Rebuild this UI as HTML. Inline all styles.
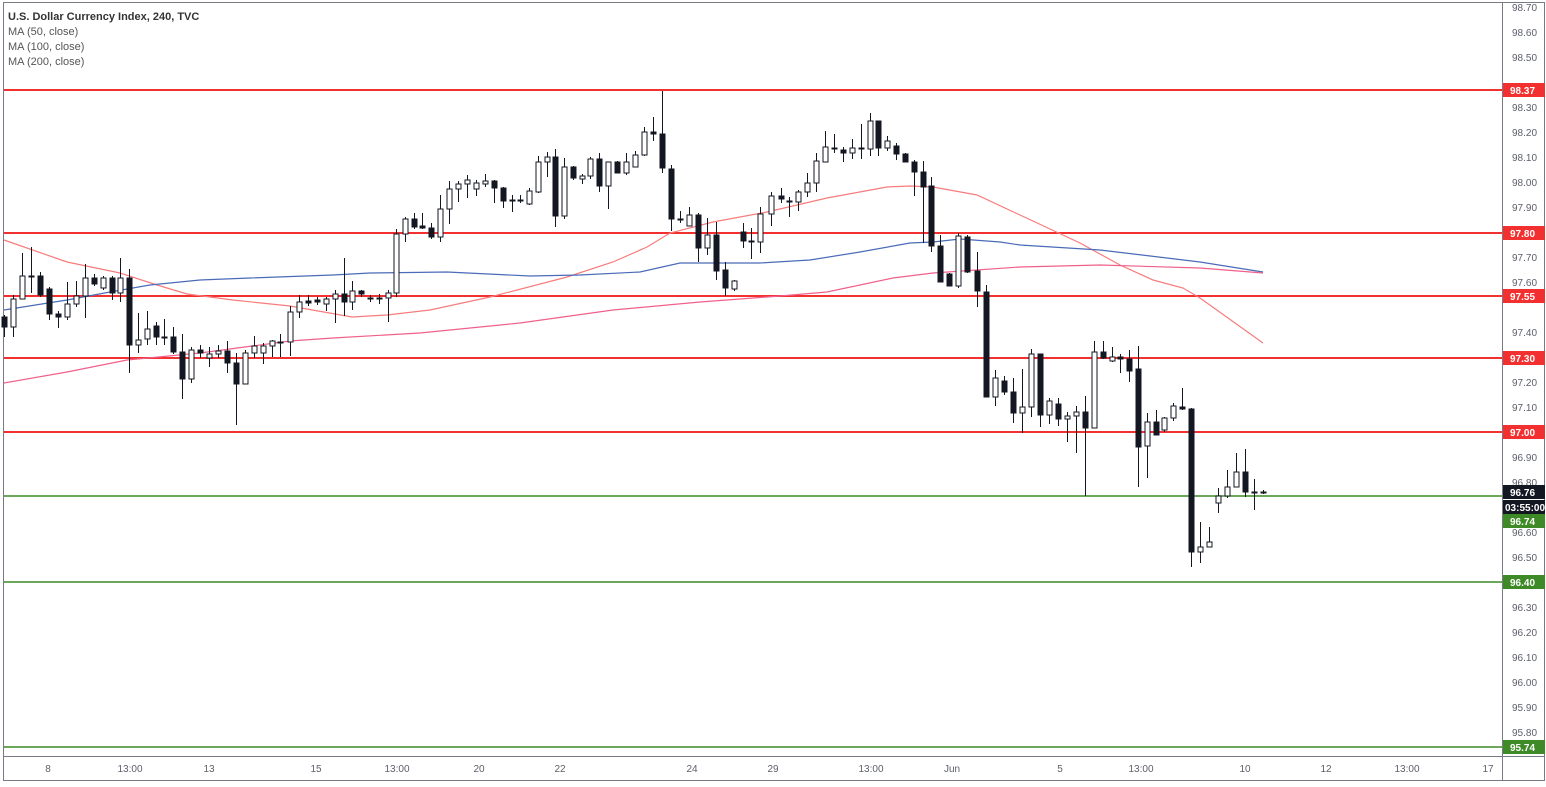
<!DOCTYPE html>
<html><head><meta charset="utf-8"><style>
body{margin:0;background:#fff;width:1546px;height:787px;overflow:hidden;font-family:"Liberation Sans",sans-serif}
svg{position:absolute;left:0;top:0}
.w{fill:#fff;stroke:#131722;stroke-width:1}
.b{fill:#131722;stroke:#131722;stroke-width:1}
.k{stroke:#131722;stroke-width:1}
.ax{font-size:10px;fill:#5d606b}
.tg{font-size:10px;fill:#fff;font-weight:bold}
</style></head><body>
<svg width="1546" height="787" viewBox="0 0 1546 787">
<rect x="3.5" y="2.5" width="1541" height="778" fill="none" stroke="#787b86"/>
<line x1="1502.5" y1="2" x2="1502.5" y2="781" stroke="#787b86"/>
<line x1="3" y1="756.5" x2="1545" y2="756.5" stroke="#787b86"/>
<g font-size="11" fill="#131722">
<text x="8" y="20" font-weight="bold" fill="#333">U.S. Dollar Currency Index, 240, TVC</text>
<text x="8" y="35" fill="#555">MA (50, close)</text>
<text x="8" y="50" fill="#555">MA (100, close)</text>
<text x="8" y="65" fill="#555">MA (200, close)</text>
</g>
<!-- horizontal levels -->
<g stroke-width="2">
<line x1="4" y1="90" x2="1502" y2="90" stroke="#f23030"/>
<line x1="4" y1="233" x2="1502" y2="233" stroke="#f23030"/>
<line x1="4" y1="296" x2="1502" y2="296" stroke="#f23030"/>
<line x1="4" y1="358" x2="1502" y2="358" stroke="#f23030"/>
<line x1="4" y1="432" x2="1502" y2="432" stroke="#f23030"/>
<line x1="4" y1="496" x2="1502" y2="496" stroke="#3d8a26" stroke-width="1.5"/>
<line x1="4" y1="582" x2="1502" y2="582" stroke="#3d8a26" stroke-width="1.5"/>
<line x1="4" y1="747" x2="1502" y2="747" stroke="#3d8a26" stroke-width="1.5"/>
</g>
<!-- MAs -->
<polyline fill="none" stroke="#f77c7c" stroke-width="1.2" points="4,240 67,262 120,273 157,285 187,294 233,300 290,306 352,317 387,315 430,310 490,297 567,277 613,262 647,247 670,233 713,222 767,212 827,198 887,187 910,186 933,187 977,195 1020,215 1080,243 1120,265 1153,280 1183,288 1200,298 1263,343"/>
<polyline fill="none" stroke="#4a6bb8" stroke-width="1.2" points="4,310 67,300 110,292 150,285 200,280 250,278 333,275 370,273 447,272 530,276 580,275 640,272 680,263 760,263 810,260 860,252 910,243 933,242 960,239 1000,242 1020,245 1100,250 1200,262 1263,272"/>
<polyline fill="none" stroke="#f0608a" stroke-width="1.2" points="4,383 67,372 127,360 200,353 290,341 333,338 420,333 520,323 613,310 700,302 780,296 827,292 893,278 933,273 1020,267 1100,265 1200,268 1263,273"/>
<g id="c"></g>
<!-- right axis -->
<g class="ax">
<text x="1512" y="11">98.70</text><text x="1512" y="36">98.60</text><text x="1512" y="61">98.50</text>
<text x="1512" y="111">98.30</text><text x="1512" y="136">98.20</text><text x="1512" y="161">98.10</text><text x="1512" y="186">98.00</text>
<text x="1512" y="211">97.90</text><text x="1512" y="261">97.70</text><text x="1512" y="286">97.60</text>
<text x="1512" y="336">97.40</text><text x="1512" y="386">97.20</text><text x="1512" y="411">97.10</text>
<text x="1512" y="461">96.90</text><text x="1512" y="486">96.80</text><text x="1512" y="536">96.60</text><text x="1512" y="561">96.50</text>
<text x="1512" y="611">96.30</text><text x="1512" y="636">96.20</text><text x="1512" y="661">96.10</text><text x="1512" y="686">96.00</text>
<text x="1512" y="711">95.90</text><text x="1512" y="736">95.80</text>
</g>
<g>
<rect x="1503" y="83" width="42" height="14" fill="#f23030"/><text class="tg" x="1510" y="94">98.37</text>
<rect x="1503" y="226" width="42" height="14" fill="#f23030"/><text class="tg" x="1510" y="237">97.80</text>
<rect x="1503" y="289" width="42" height="14" fill="#f23030"/><text class="tg" x="1510" y="300">97.55</text>
<rect x="1503" y="351" width="42" height="14" fill="#f23030"/><text class="tg" x="1510" y="362">97.30</text>
<rect x="1503" y="425" width="42" height="14" fill="#f23030"/><text class="tg" x="1510" y="436">97.00</text>
<rect x="1503" y="485" width="42" height="14" fill="#131722"/><text class="tg" x="1510" y="496">96.76</text>
<rect x="1503" y="500" width="42" height="14" fill="#131722"/><text class="tg" x="1505" y="511" font-weight="normal">03:55:00</text>
<rect x="1503" y="514" width="42" height="14" fill="#3d8a26"/><text class="tg" x="1510" y="525">96.74</text>
<rect x="1503" y="575" width="42" height="14" fill="#3d8a26"/><text class="tg" x="1510" y="586">96.40</text>
<rect x="1503" y="740" width="42" height="14" fill="#3d8a26"/><text class="tg" x="1510" y="751">95.74</text>
</g>
<g class="ax" text-anchor="middle">
<text x="48" y="772">8</text><text x="130" y="772">13:00</text><text x="209" y="772">13</text><text x="316" y="772">15</text>
<text x="397" y="772">13:00</text><text x="479" y="772">20</text><text x="560" y="772">22</text><text x="692" y="772">24</text>
<text x="773" y="772">29</text><text x="871" y="772">13:00</text><text x="952" y="772">Jun</text><text x="1060" y="772">5</text>
<text x="1141" y="772">13:00</text><text x="1245" y="772">10</text><text x="1326" y="772">12</text><text x="1407" y="772">13:00</text><text x="1488" y="772">17</text>
</g>
</svg>
<script>
var d=[[4,317,327,315,337],[13,327,299,295,337],[22,299,276,253,299],[31,276,276,247,293],[40,276,295,272,297],[49,289,314,287,320],[58,314,317,311,328],[67,317,304,282,320],[76,304,296,281,307],[85,296,278,264,318],[94,278,284,274,286],[103,288,278,276,290],[112,278,293,276,300],[120,293,278,258,302],[129,278,345,269,373],[138,345,340,313,353],[147,339,329,311,345],[156,326,337,322,345],[164,337,337,319,345],[173,337,352,327,354],[182,352,379,334,399],[191,379,350,347,383],[200,350,353,345,358],[209,358,354,347,367],[218,354,351,345,358],[227,351,363,341,373],[236,363,384,353,425],[245,384,353,350,384],[254,353,346,336,358],[263,353,346,343,364],[272,346,341,340,357],[280,342,342,334,357],[290,342,312,306,356],[299,312,302,295,318],[308,301,303,295,306],[317,300,302,297,305],[326,304,299,297,311],[335,299,294,290,323],[344,294,302,258,316],[352,302,291,281,310],[361,291,294,290,297],[370,298,298,295,302],[379,298,298,294,304],[388,298,293,290,322],[396,293,234,229,297],[405,234,219,217,242],[414,219,227,213,229],[422,226,228,213,229],[431,228,237,223,239],[440,237,209,195,242],[449,209,189,181,224],[458,189,184,181,202],[467,184,180,175,198],[476,189,183,180,196],[485,184,181,174,187],[494,181,188,180,203],[503,188,201,187,208],[512,200,200,195,212],[520,200,200,195,203],[529,204,191,188,205],[538,192,162,156,193],[547,162,157,152,177],[555,157,216,149,227],[564,216,167,158,219],[573,167,178,166,180],[582,179,176,174,184],[590,176,159,157,179],[599,159,186,153,192],[608,186,162,162,209],[617,162,173,161,173],[626,173,162,153,175],[635,167,155,151,167],[644,155,132,127,156],[653,132,134,117,141],[662,134,168,91,173],[671,169,219,165,231],[680,219,219,211,223],[689,226,215,207,226],[698,215,248,213,262],[707,248,235,218,255],[716,235,271,222,280],[725,270,288,262,296],[734,289,281,280,291],[743,232,241,223,248],[751,241,241,228,259],[760,242,214,207,253],[771,214,196,192,226],[781,196,199,188,203],[789,201,201,197,217],[798,202,192,190,211],[807,192,183,173,197],[816,183,161,153,192],[825,162,147,131,162],[834,148,148,134,153],[843,150,153,147,162],[852,153,148,139,159],[861,148,148,124,159],[870,149,121,113,156],[878,121,148,121,156],[887,148,141,136,151],[896,146,154,143,160],[905,154,162,153,162],[914,162,172,160,196],[923,172,187,161,243],[931,186,246,177,252],[940,246,282,235,282],[949,274,286,273,286],[958,286,236,233,288],[967,237,272,235,273],[977,271,291,252,307],[986,292,397,285,397],[995,397,378,370,406],[1004,381,392,376,395],[1013,392,413,378,423],[1022,413,407,369,433],[1031,407,354,349,417],[1040,354,415,354,427],[1049,415,401,398,424],[1058,404,419,398,426],[1067,419,416,412,442],[1076,416,412,406,453],[1085,412,428,396,496],[1094,428,352,341,428],[1103,352,358,341,359],[1112,361,357,347,362],[1120,357,359,354,373],[1129,359,371,350,382],[1138,369,447,346,487],[1147,446,422,413,478],[1156,422,435,410,435],[1164,430,418,417,432],[1173,418,406,403,421],[1182,407,409,388,410],[1191,409,552,408,567],[1200,552,547,522,563],[1209,547,542,527,547],[1218,503,496,488,513],[1227,496,487,470,498],[1236,487,472,453,487],[1245,472,492,449,497],[1254,492,492,479,510],[1263,492,492,490,494]];
var s='';d.forEach(function(c){var x=c[0],o=c[1],cl=c[2],h=c[3],l=c[4];var t=Math.min(o,cl),bh=Math.max(1,Math.abs(o-cl));var cls=cl>o?'b':'w';if(o==cl)cls='b';
s+='<line class="k" x1="'+(x+.5)+'" y1="'+h+'" x2="'+(x+.5)+'" y2="'+l+'"/><rect class="'+cls+'" x="'+(x-2)+'" y="'+t+'" width="5" height="'+bh+'"/>';});
document.getElementById('c').innerHTML=s;
</script>
</body></html>
